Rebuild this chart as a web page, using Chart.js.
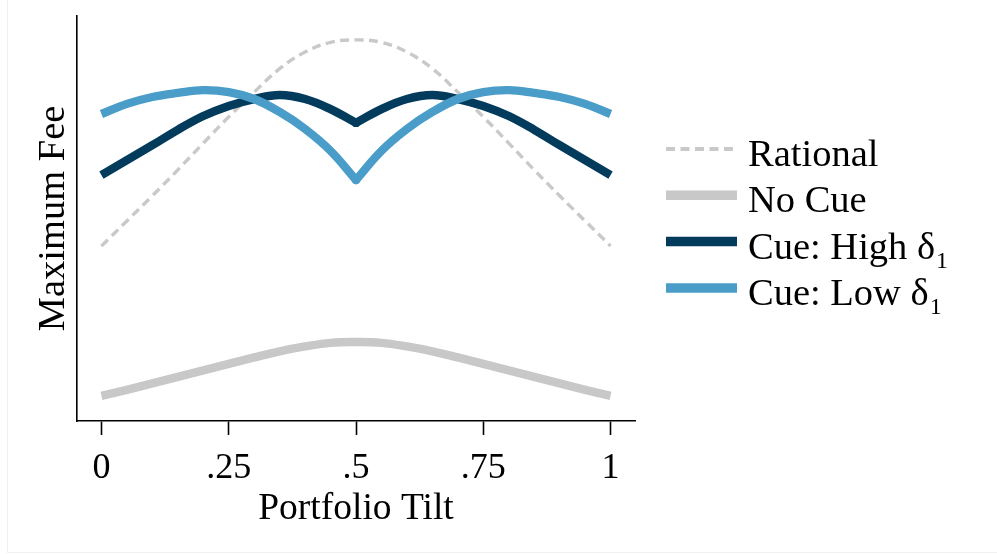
<!DOCTYPE html>
<html>
<head>
<meta charset="utf-8">
<script src="https://cdn.jsdelivr.net/npm/chart.js@4.4.1/dist/chart.umd.min.js"></script>
<style>
  html, body { margin: 0; padding: 0; background: #fff; overflow: hidden; }
  #wrap { position: relative; width: 997px; height: 554px; }
  #frame { position: absolute; left: 7px; top: -1px; width: 1000px; height: 554px;
           border-left: 1px solid #efefef; border-bottom: 1px solid #efefef; box-sizing: border-box; }
  canvas { position: absolute; left: 0; top: 0; }
</style>
</head>
<body>
<div id="wrap"><div id="frame"></div><canvas id="c" width="997" height="554"></canvas></div>
<script>
// Portfolio tilt grid
const tilt = [0, .05, .1, .15, .2, .25, .3, .35, .4, .45, .5, .55, .6, .65, .7, .75, .8, .85, .9, .95, 1];
const tickValues = [0, .25, .5, .75, 1];
const tickLabels = ['0', '.25', '.5', '.75', '1'];

// Maximum fee by scenario
const rational = [43.2, 49.4, 55.6, 62.0, 68.6, 75.1, 81.2, 87.0, 91.1, 93.5, 94.1, 93.5, 91.1, 87.0, 81.2, 75.1, 68.6, 62.0, 55.6, 49.4, 43.2];
const noCue    = [6.2, 7.7, 9.3, 10.9, 12.5, 14.1, 15.7, 17.2, 18.4, 19.3, 19.5, 19.3, 18.4, 17.2, 15.7, 14.1, 12.5, 10.9, 9.3, 7.7, 6.2];
const cueHigh  = [60.7, 64.4, 68.1, 71.9, 75.3, 77.8, 79.5, 80.5, 79.5, 77.0, 73.6, 77.0, 79.5, 80.5, 79.5, 77.8, 75.3, 71.9, 68.1, 64.4, 60.7];
const cueLow   = [75.8, 78.3, 80.0, 81.0, 81.7, 81.2, 79.5, 76.3, 72.1, 66.7, 59.5, 66.7, 72.1, 76.3, 79.5, 81.2, 81.7, 81.0, 80.0, 78.3, 75.8];

const seriesLabels = ['Rational', 'No Cue', 'Cue: High δ₁', 'Cue: Low δ₁'];
const colors = { rational: '#c9c9c9', noCue: '#c8c8c8', high: '#033b5d', low: '#4a9dc9' };

const SERIF = "'Liberation Serif', 'Times New Roman', serif";
const kink = tilt.indexOf(0.5);
const LINE_W = 8.4;

function points(arr, from, to) {
  return tilt.slice(from, to).map((x, i) => ({ x, y: arr[from + i] }));
}

// Cue curves have a kink at 0.5: each is drawn as two smooth branches meeting there
function branch(label, arr, color, from, to, order, inLegend) {
  return {
    label, data: points(arr, from, to), borderColor: color, backgroundColor: color,
    borderWidth: LINE_W, borderCapStyle: 'butt', borderJoinStyle: 'round',
    tension: 0.4, fill: false, order, inLegend,
    pointRadius: c => (c.raw && c.raw.x === 0.5 ? LINE_W / 2 : 0),
    pointBorderWidth: 0, pointHoverRadius: 0, pointBackgroundColor: color,
    legendWidth: 9.5
  };
}

const datasets = [
  {
    label: seriesLabels[0], data: points(rational, 0, tilt.length), borderColor: colors.rational,
    borderWidth: 3.4, borderDash: [9, 5.5], tension: 0.4, pointRadius: 0,
    fill: false, order: 4, inLegend: true, legendWidth: 3.8
  },
  {
    label: seriesLabels[1], data: points(noCue, 0, tilt.length), borderColor: colors.noCue,
    borderWidth: LINE_W, tension: 0.4, pointRadius: 0,
    fill: false, order: 3, inLegend: true, legendWidth: 9.5
  },
  branch(seriesLabels[2], cueHigh, colors.high, 0, kink + 1, 2, true),
  branch(seriesLabels[2], cueHigh, colors.high, kink, tilt.length, 2, false),
  branch(seriesLabels[3], cueLow, colors.low, 0, kink + 1, 1, true),
  branch(seriesLabels[3], cueLow, colors.low, kink, tilt.length, 1, false)
];

// Legend drawn at the right, with a subscript for δ₁
const sideLegend = {
  id: 'sideLegend',
  afterDraw(chart, args, opts) {
    const ctx = chart.ctx;
    const items = chart.data.datasets.filter(d => d.inLegend);
    ctx.save();
    items.forEach((d, i) => {
      const base = opts.firstBaseline + i * opts.rowGap;
      const ly = base - opts.lineRise;
      ctx.beginPath();
      ctx.setLineDash(d.borderDash || []);
      ctx.lineCap = 'butt';
      ctx.strokeStyle = d.borderColor;
      ctx.lineWidth = d.legendWidth;
      ctx.moveTo(opts.x0, ly);
      ctx.lineTo(opts.x1, ly);
      ctx.stroke();
      ctx.setLineDash([]);
      ctx.fillStyle = '#000';
      ctx.textBaseline = 'alphabetic';
      ctx.textAlign = 'left';
      const parts = d.label.split('₁');
      ctx.font = `${opts.size}px ${SERIF}`;
      ctx.fillText(parts[0], opts.textX, base);
      if (parts.length > 1) {
        const w = ctx.measureText(parts[0]).width;
        ctx.font = `${opts.subSize}px ${SERIF}`;
        ctx.fillText('1', opts.textX + w + 1, base + opts.subDrop);
      }
    });
    ctx.restore();
  }
};

new Chart(document.getElementById('c'), {
  type: 'line',
  data: { datasets },
  plugins: [sideLegend],
  options: {
    responsive: false,
    animation: false,
    events: [],
    layout: { padding: { left: 0, top: 16, right: 362, bottom: 0 } },
    plugins: {
      legend: { display: false },
      tooltip: { enabled: false },
      sideLegend: {
        x0: 666, x1: 737, textX: 748, firstBaseline: 166, rowGap: 46.3,
        lineRise: 17, size: 38.5, subSize: 24, subDrop: 9
      }
    },
    scales: {
      x: {
        type: 'linear', min: -0.048, max: 1.048,
        afterBuildTicks(s) { s.ticks = tickValues.map(v => ({ value: v })); },
        afterFit(s) { s.height = 133; },
        ticks: {
          autoSkip: false, maxRotation: 0, padding: 12, color: '#000',
          font: { family: SERIF, size: 36 },
          callback: (v, i) => tickLabels[i]
        },
        grid: {
          display: true, drawOnChartArea: false, drawTicks: true, tickLength: 14,
          color: '#000', tickColor: '#000', tickWidth: 1.6
        },
        border: { display: true, color: '#000', width: 1.6 },
        title: {
          display: true, text: 'Portfolio Tilt', color: '#000',
          font: { family: SERIF, size: 37.5 }, padding: { top: 0, bottom: 22 }
        }
      },
      y: {
        type: 'linear', min: 0, max: 100,
        afterFit(s) { s.width = 77; },
        ticks: { display: false },
        grid: { display: false, drawTicks: false },
        border: { display: true, color: '#000', width: 1.6 },
        title: {
          display: true, text: 'Maximum Fee', color: '#000',
          font: { family: SERIF, size: 38.5 }, padding: { top: 31, bottom: 0 }
        }
      }
    }
  }
});
</script>
</body>
</html>
